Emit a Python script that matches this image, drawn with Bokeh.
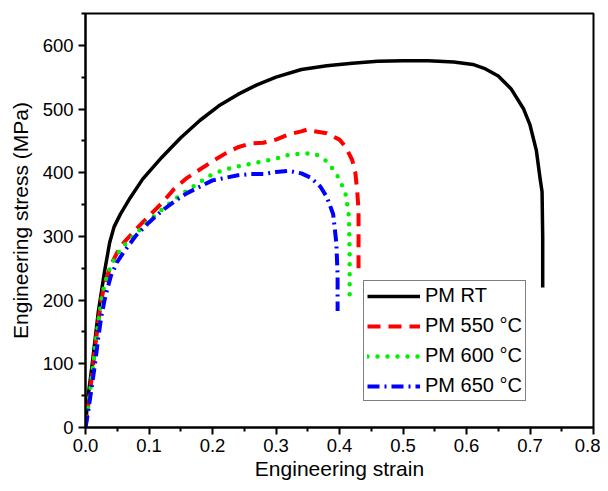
from bokeh.plotting import figure
from bokeh.models import Range1d, FixedTicker, Legend, LegendItem
from bokeh.embed import file_html
from bokeh.resources import INLINE

# ---- data ----
rt_strain = [0, 0.003, 0.01, 0.02, 0.03, 0.038, 0.045, 0.055, 0.07, 0.09, 0.12, 0.15, 0.18,
             0.21, 0.24, 0.27, 0.30, 0.34, 0.38, 0.42, 0.46, 0.50, 0.54, 0.58, 0.61, 0.63,
             0.65, 0.67, 0.69, 0.70, 0.71, 0.716, 0.719, 0.72, 0.72]
rt_stress = [0, 40, 95, 180, 245, 290, 315, 335, 360, 390, 424, 455, 482,
             505, 523, 538, 550, 562, 568, 572, 575, 576, 576, 574, 570, 563,
             552, 532, 500, 475, 435, 390, 370, 300, 220]

s550_strain = [0, 0.005, 0.01, 0.015, 0.02, 0.025, 0.03, 0.04, 0.05, 0.06, 0.08, 0.10, 0.12,
               0.14, 0.16, 0.18, 0.20, 0.22, 0.24, 0.26, 0.28, 0.30, 0.32, 0.34, 0.35, 0.36,
               0.38, 0.40, 0.41, 0.42, 0.425, 0.428, 0.43, 0.43, 0.43]
s550_stress = [0, 40, 80, 125, 165, 200, 225, 255, 275, 290, 312, 332, 352,
               375, 392, 405, 418, 430, 440, 446, 447, 452, 460, 465, 468, 465,
               462, 452, 440, 420, 400, 370, 340, 290, 240]

s600_strain = [0, 0.005, 0.01, 0.015, 0.02, 0.025, 0.03, 0.04, 0.05, 0.06, 0.08, 0.10, 0.12,
               0.14, 0.16, 0.18, 0.20, 0.22, 0.24, 0.26, 0.28, 0.30, 0.32, 0.34, 0.36, 0.37,
               0.38, 0.39, 0.40, 0.41, 0.415, 0.416, 0.416]
s600_stress = [0, 40, 80, 125, 165, 200, 225, 255, 272, 285, 305, 325, 342,
               358, 372, 385, 398, 405, 410, 414, 418, 422, 428, 430, 430, 425,
               418, 405, 390, 365, 330, 270, 205]

s650_strain = [0, 0.005, 0.01, 0.015, 0.02, 0.025, 0.03, 0.035, 0.04, 0.05, 0.06, 0.08, 0.10,
               0.12, 0.14, 0.16, 0.18, 0.20, 0.22, 0.24, 0.26, 0.28, 0.30, 0.32, 0.34, 0.355,
               0.37, 0.38, 0.39, 0.395, 0.397, 0.397]
s650_stress = [0, 30, 65, 100, 140, 175, 200, 220, 238, 260, 275, 302, 322,
               340, 355, 368, 378, 388, 392, 396, 398, 398, 401, 403, 399, 392,
               378, 362, 335, 290, 240, 183]

x_ticks = [0.0, 0.1, 0.2, 0.3, 0.4, 0.5, 0.6, 0.7, 0.8]
x_labels = ["0.0", "0.1", "0.2", "0.3", "0.4", "0.5", "0.6", "0.7", "0.8"]
y_ticks = [0, 100, 200, 300, 400, 500, 600]
series_names = ["PM RT", "PM 550 \u00b0C", "PM 600 \u00b0C", "PM 650 \u00b0C"]

FONT = "Liberation Sans"

p = figure(width=600, height=483, output_backend="svg", toolbar_location=None,
           x_range=Range1d(0, 0.8), y_range=Range1d(0, 650),
           min_border_left=85, min_border_right=7, min_border_top=13, min_border_bottom=56)
p.background_fill_color = "white"
p.border_fill_color = "white"
p.grid.visible = False
p.outline_line_color = "black"
p.outline_line_width = 2
p.outline_line_alpha = 1

for ax in (p.xaxis[0], p.yaxis[0]):
    ax.axis_line_width = 2
    ax.axis_line_color = "black"
    ax.major_tick_line_width = 2
    ax.minor_tick_line_width = 2
    ax.major_tick_in = 0
    ax.minor_tick_in = 0
    ax.major_tick_out = 7
    ax.minor_tick_out = 4
    ax.major_label_text_font = FONT
    ax.major_label_text_font_size = "18.5px"
    ax.major_label_text_color = "black"
    ax.axis_label_text_font = FONT
    ax.axis_label_text_font_size = "21px"
    ax.axis_label_text_font_style = "normal"
    ax.axis_label_text_color = "black"

p.xaxis.ticker = FixedTicker(ticks=x_ticks, minor_ticks=[0.05 + 0.1 * i for i in range(8)])
p.xaxis.major_label_overrides = {t: l for t, l in zip(x_ticks, x_labels)}
p.yaxis.ticker = FixedTicker(ticks=y_ticks, minor_ticks=[50 + 100 * i for i in range(7)])
p.xaxis.axis_label = "Engineering strain"
p.yaxis.axis_label = "Engineering stress (MPa)"
p.xaxis.major_label_standoff = 4
p.yaxis.major_label_standoff = 5
p.xaxis.axis_label_standoff = 2
p.yaxis.axis_label_standoff = 8

r1 = p.line(rt_strain, rt_stress, line_color="black", line_width=3.5, line_join="round")
r2 = p.line(s550_strain, s550_stress, line_color="#ff0000", line_width=4, line_dash="13 8",
            line_join="round")
r3 = p.line(s600_strain, s600_stress, line_color="#00f000", line_width=4.5, line_dash="0 10",
            line_cap="round", line_join="round")
r4 = p.line(s650_strain, s650_stress, line_color="#0000ff", line_width=4, line_dash="12 5 2 5",
            line_join="round")

legend = Legend(items=[LegendItem(label=n, renderers=[r]) for n, r in
                       zip(series_names, [r1, r2, r3, r4])],
                location=(278, 26))
legend.border_line_color = "black"
legend.border_line_width = 1
legend.background_fill_color = "white"
legend.background_fill_alpha = 1
legend.label_text_font = FONT
legend.label_text_font_size = "20px"
legend.label_text_color = "black"
legend.glyph_width = 53
legend.glyph_height = 20
legend.label_height = 20
legend.spacing = 7
legend.padding = 3
legend.label_standoff = 5
legend.margin = 0
p.add_layout(legend, "center")

open("out.html", "w").write(file_html(p, INLINE))
